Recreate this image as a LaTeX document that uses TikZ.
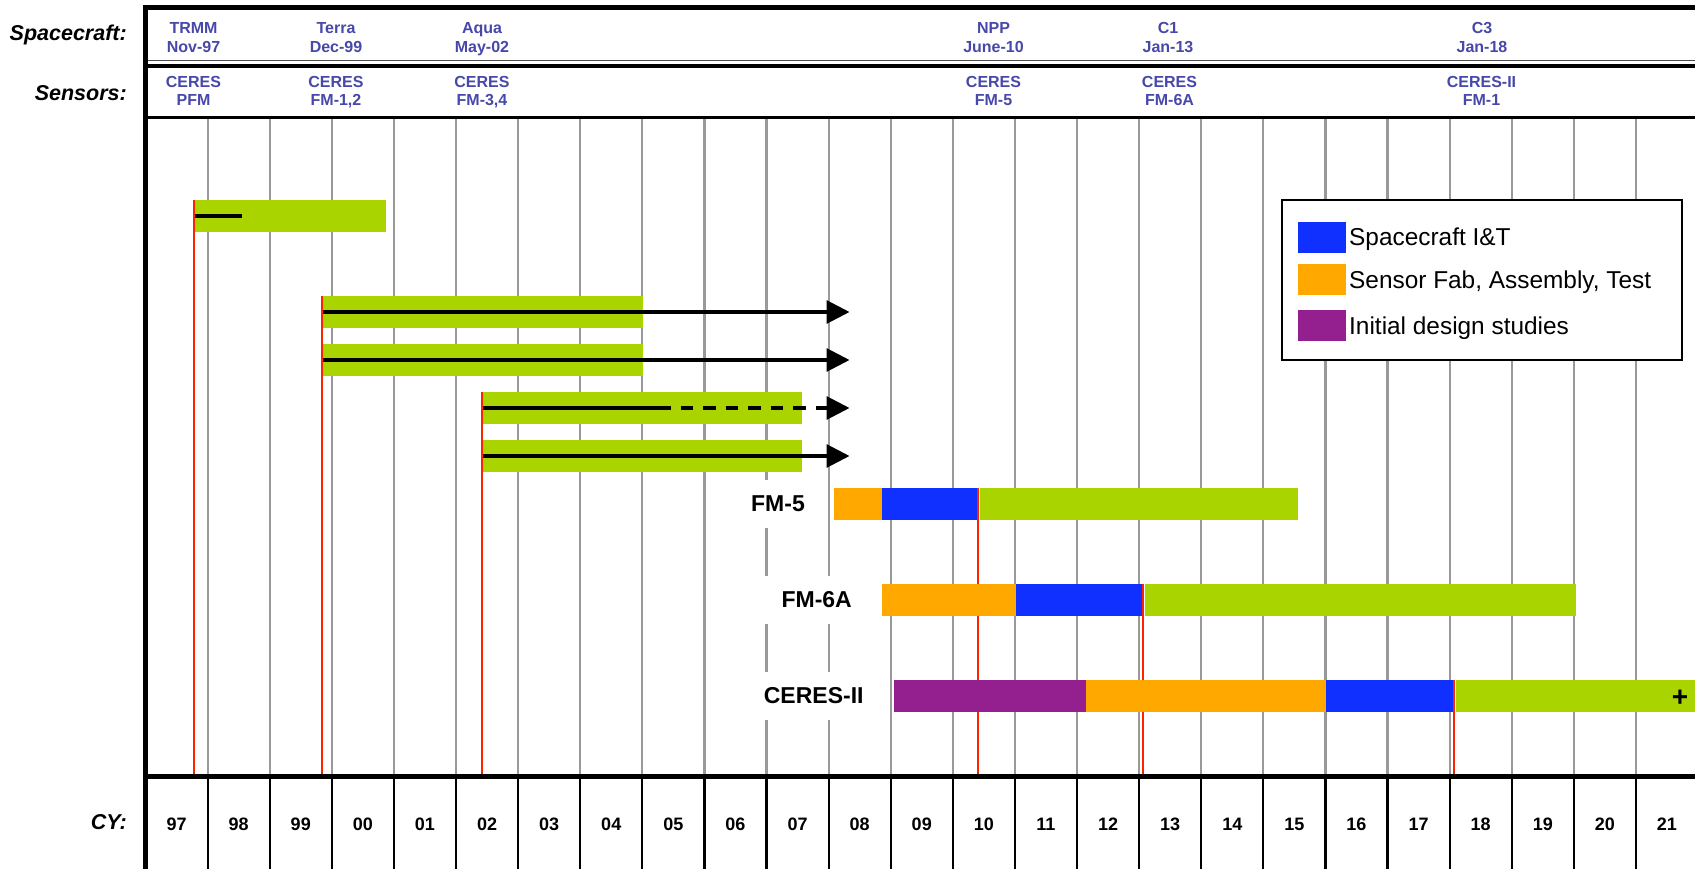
\documentclass[tikz,border=0pt]{standalone}
\usepackage{fontspec}
\setmainfont{Liberation Sans}
\usetikzlibrary{arrows.meta}
\definecolor{cgreen}{HTML}{AAD400}
\definecolor{cblue}{HTML}{1030FF}
\definecolor{corange}{HTML}{FFA800}
\definecolor{cpurple}{HTML}{942090}
\definecolor{launchred}{HTML}{FF2200}
\definecolor{gridgray}{HTML}{999999}
\definecolor{hdrblue}{HTML}{4848AA}
\tikzset{
  hdr/.style={text=hdrblue, font=\fontsize{16pt}{18pt}\selectfont\bfseries, anchor=base, inner sep=0pt},
  rowlbl/.style={font=\fontsize{21.5pt}{24pt}\selectfont\bfseries\itshape, anchor=base east, inner sep=0pt},
  yearlbl/.style={font=\fontsize{18pt}{20pt}\selectfont\bfseries, anchor=base, inner sep=0pt},
  bar/.style={anchor=west, inner sep=0pt, minimum height=32pt, draw=none},
  gbar/.style={bar, fill=cgreen},
  bbar/.style={bar, fill=cblue},
  obar/.style={bar, fill=corange},
  pbar/.style={bar, fill=cpurple},
  gridline/.style={draw=gridgray, line width=2.2pt},
  cyline/.style={draw=black, line width=2.2pt},
  launch/.style={draw=launchred, line width=2.3pt},
  frameline/.style={draw=black},
  arr/.style={line width=3.2pt, -{Triangle[length=23pt, width=23pt]}},
  sublbl/.style={font=\fontsize{23pt}{26pt}\selectfont\bfseries, fill=white, minimum height=48pt, inner xsep=18pt, inner ysep=0pt},
  legsq/.style={inner sep=0pt, minimum width=48pt, minimum height=31pt, anchor=west},
  legtxt/.style={font=\fontsize{24.4pt}{28pt}\selectfont, anchor=base west, inner sep=0pt},
}
\begin{document}
\begin{tikzpicture}[x=1pt,y=-1pt]
\useasboundingbox (0,0) rectangle (1695,869);
\fill[white] (0,0) rectangle (1695,869);

% grid lines
\foreach \k in {1,...,24} {
  \draw[gridline] ({145.5+62.1*\k},119.5) -- ({145.5+62.1*\k},774.2);
  \draw[cyline] ({145.5+62.1*\k},779) -- ({145.5+62.1*\k},869);
}

% launch lines
\draw[launch] (193.7,200) -- (193.7,774.2);
\draw[launch] (321.8,296) -- (321.8,774.2);
\draw[launch] (482,392) -- (482,774.2);
\draw[launch] (978.3,488) -- (978.3,774.2);
\draw[launch] (1143,584) -- (1143,774.2);
\draw[launch] (1454,680) -- (1454,774.2);

% bars
\node[gbar, minimum width=191.3pt] (trmm) at (194.7,216) {};
\node[gbar, minimum width=319.5pt] (t1) at (322.8,312) {};
\node[gbar, minimum width=319.5pt] (t2) at (322.8,360) {};
\node[gbar, minimum width=318.6pt] (a1) at (483,408) {};
\node[gbar, minimum width=318.6pt] (a2) at (483,456) {};

\node[obar, minimum width=48pt] (f5o) at (834,504) {};
\node[bbar, minimum width=95.2pt] (f5b) at (882,504) {};
\node[gbar, minimum width=318.5pt] (f5g) at (979.5,504) {};

\node[obar, minimum width=133.8pt] (f6o) at (882,600) {};
\node[bbar, minimum width=126.2pt] (f6b) at (1015.8,600) {};
\node[gbar, minimum width=430.9pt] (f6g) at (1144.8,600) {};

\node[pbar, minimum width=192pt] (c2p) at (894,696) {};
\node[obar, minimum width=240pt] (c2o) at (1086,696) {};
\node[bbar, minimum width=126.5pt] (c2b) at (1326,696) {};
\node[gbar, minimum width=245pt] (c2g) at (1455.5,696) {};

% arrows / lines
\coordinate (trmmend) at (242,216);
\draw[line width=3.3pt] (trmm.west) -- (trmmend);
\coordinate (t1tip) at (849.5,312);
\coordinate (t2tip) at (849.5,360);
\coordinate (a1mid) at (658,408);
\coordinate (a1tip) at (849.5,408);
\coordinate (a2tip) at (849.5,456);
\draw[arr] (t1.west) -- (t1tip);
\draw[arr] (t2.west) -- (t2tip);
\draw[line width=3.2pt] (a1.west) -- (a1mid);
\draw[arr, dash pattern=on 12.5pt off 10pt] (a1mid) -- (a1tip);
\draw[arr] (a2.west) -- (a2tip);

\node[font=\fontsize{28pt}{30pt}\selectfont\bfseries, inner sep=0pt] (plus) at (1680,698) {+};

% row labels
\node[sublbl] (lfm5) at (778,504) {FM-5};
\node[sublbl] (lfm6) at (816.7,600) {FM-6A};
\node[sublbl] (lc2) at (813.7,696) {CERES-II};

% legend
\node[draw=black, line width=1.5pt, fill=white, minimum width=400pt, minimum height=160pt, inner sep=0pt] (legend) at (1482,280) {};
\node[legsq, fill=cblue] (lgb) at (1298,237.5) {};
\node[legsq, fill=corange] (lgo) at (1298,279.5) {};
\node[legsq, fill=cpurple] (lgp) at (1298,325.5) {};
\node[legtxt] (lgbt) at (1349,246) {Spacecraft I\&T};
\node[legtxt] (lgot) at (1349,288) {Sensor Fab, Assembly, Test};
\node[legtxt] (lgpt) at (1349,334) {Initial design studies};

% frame
\draw[frameline, line width=5pt] (143.3,7.8) -- (1695,7.8);
\draw[frameline, draw=black!70, line width=1.5pt] (143.3,60.5) -- (1695,60.5);
\draw[frameline, line width=3.5pt] (143.3,66) -- (1695,66);
\draw[frameline, line width=3pt] (143.3,118) -- (1695,118);
\draw[frameline, line width=5pt] (143.3,776.7) -- (1695,776.7);
\draw[frameline, line width=5pt] (145.8,5.3) -- (145.8,869);

% header texts
\node[rowlbl] (lsc) at (127,41) {Spacecraft:};
\node[rowlbl] (lsn) at (127,100.5) {Sensors:};
\node[rowlbl] (lcy) at (127,829.5) {CY:};

\node[hdr] (s1a) at (193.5,33.3) {TRMM};
\node[hdr] (s1b) at (193.5,52.3) {Nov-97};
\node[hdr] (s2a) at (336,33.3) {Terra};
\node[hdr] (s2b) at (336,52.3) {Dec-99};
\node[hdr] (s3a) at (482,33.3) {Aqua};
\node[hdr] (s3b) at (482,52.3) {May-02};
\node[hdr] (s4a) at (993.5,33.3) {NPP};
\node[hdr] (s4b) at (993.5,52.3) {June-10};
\node[hdr] (s5a) at (1168,33.3) {C1};
\node[hdr] (s5b) at (1168,52.3) {Jan-13};
\node[hdr] (s6a) at (1482,33.3) {C3};
\node[hdr] (s6b) at (1482,52.3) {Jan-18};

\node[hdr] (n1a) at (193.5,87.3) {CERES};
\node[hdr] (n1b) at (193.5,106) {PFM};
\node[hdr] (n2a) at (336,87.3) {CERES};
\node[hdr] (n2b) at (336,106) {FM-1,2};
\node[hdr] (n3a) at (482,87.3) {CERES};
\node[hdr] (n3b) at (482,106) {FM-3,4};
\node[hdr] (n4a) at (993.5,87.3) {CERES};
\node[hdr] (n4b) at (993.5,106) {FM-5};
\node[hdr] (n5a) at (1169.5,87.3) {CERES};
\node[hdr] (n5b) at (1169.5,106) {FM-6A};
\node[hdr] (n6a) at (1481.5,87.3) {CERES-II};
\node[hdr] (n6b) at (1481.5,106) {FM-1};

% years
\foreach \yr [count=\i from 0] in {97,98,99,00,01,02,03,04,05,06,07,08,09,10,11,12,13,14,15,16,17,18,19,20,21} {
  \node[yearlbl] (yr\i) at ({145.5+62.1*(\i+0.5)},830.7) {\yr};
}
\end{tikzpicture}
\end{document}
